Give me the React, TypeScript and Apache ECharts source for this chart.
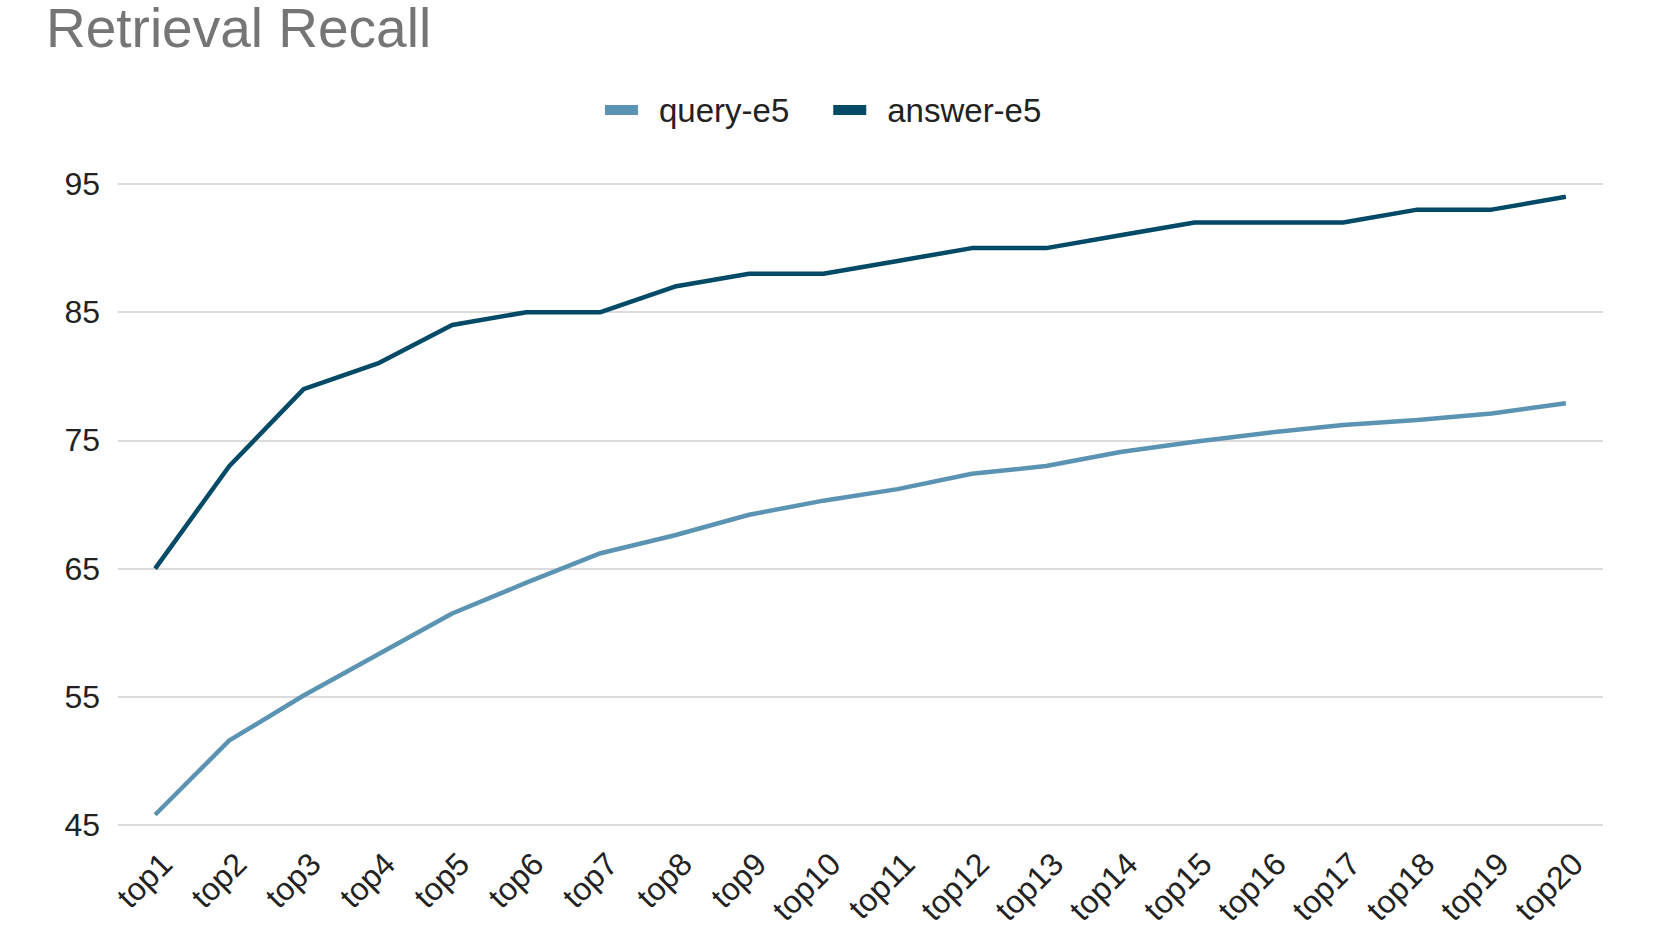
import React, { useEffect, useRef } from "react";
import * as echarts from "echarts";

const categories = [
  "top1", "top2", "top3", "top4", "top5", "top6", "top7", "top8", "top9", "top10",
  "top11", "top12", "top13", "top14", "top15", "top16", "top17", "top18", "top19", "top20",
];
const queryE5 = [45.8, 51.6, 55.1, 58.3, 61.5, 63.9, 66.2, 67.6, 69.2, 70.3, 71.2, 72.4, 73.0, 74.1, 74.9, 75.6, 76.2, 76.6, 77.1, 77.9];
const answerE5 = [65, 73, 79, 81, 84, 85, 85, 87, 88, 88, 89, 90, 90, 91, 92, 92, 92, 93, 93, 94];
const yTickLabels = [45, 55, 65, 75, 85, 95];

const FONT = "'Liberation Sans', Arial, sans-serif";

export default function App() {
  const ref = useRef<HTMLDivElement>(null);
  useEffect(() => {
    if (!ref.current) return;
    const chart = echarts.init(ref.current, null, { renderer: "svg" });
    chart.setOption({
      animation: false,
      backgroundColor: "#ffffff",
      textStyle: { fontFamily: FONT },
      title: {
        text: "Retrieval Recall",
        left: 46,
        top: 0,
        padding: 0,
        textStyle: { fontFamily: FONT, fontSize: 55, fontWeight: "normal", color: "#757575", lineHeight: 55 },
      },
      legend: {
        data: ["query-e5", "answer-e5"],
        left: 605,
        top: 93,
        padding: 0,
        itemWidth: 33,
        itemHeight: 10,
        itemGap: 44,
        icon: "rect",
        textStyle: { fontFamily: FONT, fontSize: 33, color: "#222222", lineHeight: 34, padding: [0, 0, 0, 16] },
      },
      grid: { left: 118, right: 58, top: 184, bottom: 109, containLabel: false },
      xAxis: {
        type: "category",
        data: categories,
        boundaryGap: true,
        axisLine: { show: false },
        axisTick: { show: false },
        axisLabel: {
          interval: 0,
          rotate: 45,
          margin: 22,
          verticalAlign: "top",
          fontFamily: FONT,
          fontSize: 32,
          color: "#222222",
        },
      },
      yAxis: {
        type: "value",
        min: 45,
        max: 95,
        interval: 5,
        axisLine: { show: false },
        axisTick: { show: false },
        axisLabel: {
          margin: 18,
          fontFamily: FONT,
          fontSize: 32,
          color: "#222222",
          formatter: (v: number) => (yTickLabels.includes(v) ? String(v) : ""),
        },
        splitLine: {
          show: true,
          lineStyle: { color: ["#cfcfcf", "rgba(0,0,0,0)"], width: 1.6 },
        },
      },
      series: [
        {
          name: "query-e5",
          type: "line",
          data: queryE5,
          symbol: "none",
          color: "#5b94b3",
          lineStyle: { width: 4.5, color: "#5b94b3" },
        },
        {
          name: "answer-e5",
          type: "line",
          data: answerE5,
          symbol: "none",
          color: "#024a65",
          lineStyle: { width: 4.5, color: "#024a65" },
        },
      ],
    });
    return () => chart.dispose();
  }, []);
  return (
    <div
      ref={ref}
      style={{ position: "absolute", left: 0, top: 0, width: 1661, height: 934 }}
    />
  );
}
